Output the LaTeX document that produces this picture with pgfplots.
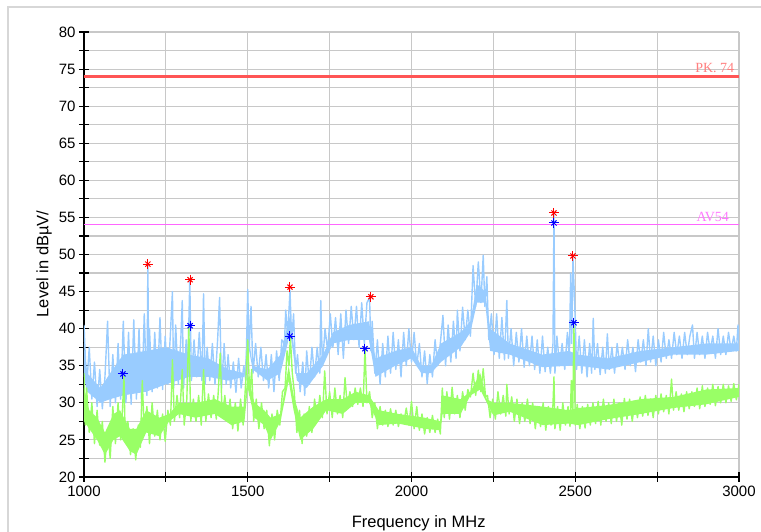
\documentclass[border=0pt]{standalone}
\usepackage{fontspec}
\setmainfont{Liberation Sans}
\newfontfamily\limfont{Liberation Serif}
\usepackage{pgfplots}
\pgfplotsset{compat=1.18}
\definecolor{pkblue}{RGB}{153,204,255}
\definecolor{avgreen}{RGB}{153,255,102}
\definecolor{pkline}{RGB}{255,85,85}
\definecolor{pklabel}{RGB}{255,128,128}
\definecolor{avline}{RGB}{255,102,255}
\definecolor{avlabel}{RGB}{255,120,255}
\definecolor{gridgray}{RGB}{200,200,200}
\definecolor{framegray}{RGB}{215,215,215}

\begin{document}
\begin{tikzpicture}
\begin{axis}[
  at={(0,0)}, anchor=south west,
  width=655pt, height=445pt, scale only axis,
  xmin=1000, xmax=3000, ymin=20, ymax=80,
  axis x line*=bottom, axis y line*=left,
  axis line style={black, line width=1.3pt, -},
  xtick={1000,1500,...,3000}, minor xtick={1250,1750,2250,2750},
  ytick={20,25,...,80}, minor ytick={22.5,27.5,...,77.5},
  grid=both,
  major grid style={gridgray, line width=1.1pt},
  minor grid style={gridgray, line width=1.1pt},
  tick align=center, major tick length=10pt, minor tick length=10pt,
  every tick/.style={black, line width=1.1pt},
  scaled ticks=false,
  /pgf/number format/1000 sep={},
  /pgf/number format/assume math mode=true,
  ticklabel style={font=\fontsize{15}{15}\selectfont},
  xlabel={Frequency in MHz}, ylabel={Level in dBµV/},
  every axis x label/.style={at={(axis description cs:0.511,-0.104)}, anchor=center,
    font=\fontsize{16.5}{18}\selectfont},
  every axis y label/.style={at={(axis description cs:-0.061,0.479)}, rotate=90, anchor=center,
    font=\fontsize{16.5}{18}\selectfont},
]
% peak trace: dense body of the band (upper edge, then lower edge back)
\addplot[fill=pkblue, draw=none] coordinates {
(1000,38)(1010,34)(1050,32)(1080,34)(1120,36.5)(1190,37)(1250,37.5)(1320,36.5)
(1380,36)(1440,34.5)(1490,34)(1500,40)(1515,35)(1560,34.5)(1600,36.5)(1630,42)
(1650,34)(1680,34)(1730,36.5)(1760,39.5)(1810,40.5)(1870,41)(1890,36)(1950,37)
(2000,37.5)(2030,35)(2060,35)(2090,38)(2150,39.5)(2180,41)(2200,46)(2225,45)
(2240,40)(2300,38)(2400,36.5)(2480,37)(2510,36.5)(2600,36)(2700,37)(2800,37.5)
(2900,38)(3000,38)
(3000,37)(2900,36.5)(2800,36.5)(2700,35.5)(2600,34.5)(2510,35)(2480,35)(2400,34.8)
(2300,36.5)(2240,37)(2225,43.5)(2200,43.5)(2180,39.5)(2150,37.5)(2090,35.5)(2060,34)
(2030,34)(2000,36)(1950,35)(1890,33.5)(1870,38.5)(1810,38.5)(1760,38)(1730,35)
(1680,32)(1650,33)(1630,39.5)(1600,34)(1560,33)(1515,34.5)(1500,38)(1490,33.5)
(1440,33)(1380,33.5)(1320,33.5)(1250,32.5)(1190,31.5)(1120,31)(1080,30.5)(1050,30)
(1010,31.5)(1000,33.5)
};
% peak trace: noise
\addplot[pkblue, line width=1.4pt, line join=round] coordinates {
(1000,40.5)(1008,32)(1016,37.5)(1024,30.5)(1032,35.5)(1040,29.5)(1048,34.5)(1056,29.2)
(1064,33.5)(1072,41.0)(1080,29.5)(1088,36.5)(1096,30)(1104,38)(1112,30.5)(1120,41.0)
(1128,30)(1136,39.5)(1144,29.8)(1152,41.2)(1160,30.5)(1168,40)(1176,29.8)(1184,42)
(1192,31)(1195,48.7)(1198,32)(1200,40)(1208,31.5)(1216,39.5)(1224,32)(1232,41.5)
(1240,31.8)(1248,39)(1256,32.5)(1264,39.5)(1270,45)(1274,32)(1280,40.5)(1288,32.5)
(1296,39)(1300,43.8)(1304,32)(1312,38.5)(1316,32.5)(1323,46.6)(1328,33)(1336,38.5)
(1344,33.5)(1352,39.5)(1360,33)(1365,44.7)(1370,32.5)(1376,37.5)(1384,33)(1392,38)
(1400,32.5)(1408,38.5)(1414,44.2)(1420,32)(1428,38)(1434,32.5)(1440,36.5)(1448,32)
(1456,35.5)(1464,31.4)(1472,36)(1480,32)(1488,35)(1494,33)(1500,45.3)(1504,37)
(1510,43)(1516,34)(1524,38)(1532,33.5)(1540,37.5)(1548,33)(1556,36.5)(1564,32)
(1572,36.5)(1580,31.5)(1588,37)(1596,33)(1604,38.5)(1612,38)(1616,42.5)(1622,39)
(1629,45.2)(1634,38.5)(1640,42)(1646,34)(1652,36.5)(1660,31.5)(1668,35.5)(1674,31)
(1680,37)(1688,32.5)(1696,37.5)(1704,33.5)(1712,37.5)(1720,34)(1723,43.8)(1728,35)
(1736,40)(1744,37)(1752,42)(1760,37.5)(1768,41.5)(1776,36.5)(1784,42)(1792,36)
(1800,42.5)(1808,38)(1816,43)(1824,38.5)(1832,43)(1840,37.5)(1848,43.5)(1856,38)
(1864,43.5)(1872,44.2)(1876,37)(1880,41)(1888,34)(1896,38.5)(1904,32.5)(1912,38)
(1920,33.5)(1928,39)(1936,34)(1944,39.5)(1952,34.5)(1960,38.5)(1968,33.5)(1976,39.5)
(1984,35)(1992,40)(2000,35.5)(2008,39.5)(2016,35)(2024,38)(2032,33.5)(2040,37)
(2048,32.6)(2056,36.5)(2064,33.5)(2072,38.5)(2080,35)(2088,38)(2096,41.8)(2104,35)
(2112,40.5)(2120,35.5)(2128,41)(2136,36)(2140,42.5)(2148,37)(2156,42.9)(2164,38.5)
(2172,42.5)(2180,39)(2188,48.5)(2196,43)(2204,49)(2212,43.5)(2219,49.9)(2224,43)
(2230,47)(2236,38.5)(2244,42)(2252,36.5)(2260,42)(2268,36)(2276,41.5)(2284,35.8)
(2291,43.8)(2296,36)(2304,40)(2312,35)(2320,39.5)(2328,35.5)(2336,40)(2344,34.8)
(2352,39)(2360,35)(2368,39)(2376,34.5)(2384,38.5)(2392,34)(2400,39)(2408,34.2)
(2416,37.5)(2424,34)(2432,38)(2435,55.6)(2438,34)(2444,39)(2452,35)(2460,38)
(2468,34.5)(2476,39.5)(2482,36)(2486,47.5)(2489,38)(2493,49.6)(2497,45)(2500,41)
(2504,34.5)(2512,39)(2520,34)(2528,38.5)(2536,33.5)(2544,38)(2550,34)(2555,41.4)
(2560,34.5)(2568,38)(2576,33.8)(2584,37.5)(2592,34)(2598,39.3)(2604,34.5)(2612,37.5)
(2620,34)(2628,38)(2636,35)(2644,37.5)(2652,34.5)(2660,38.5)(2668,35)(2676,37.5)
(2684,34.2)(2692,38.5)(2700,35.5)(2708,38.5)(2716,35)(2723,40)(2730,35.5)(2738,39)
(2746,35)(2754,38.5)(2762,35.5)(2770,39.5)(2778,36)(2786,38.5)(2794,36)(2802,39.5)
(2810,36.5)(2818,39)(2826,36)(2834,39.5)(2842,36.5)(2850,39)(2858,40.5)(2864,36)
(2872,39.5)(2880,36.5)(2888,39)(2896,36)(2904,39.5)(2912,37)(2920,39)(2928,36)
(2936,40)(2944,36.5)(2952,39)(2960,36.5)(2968,39.5)(2976,37)(2984,39)(2992,37)
(2997,40.5)(3000,38)
};
% average trace: dense body
\addplot[fill=avgreen, draw=none] coordinates {
(1000,32)(1016,29)(1040,28)(1064,26)(1090,28.5)(1110,29)(1140,26.5)(1160,26.5)
(1190,29)(1230,28)(1260,28.5)(1290,30)(1340,30)(1400,30.5)(1450,29.5)(1490,29.5)
(1500,34)(1520,30)(1550,29)(1570,28)(1600,28.5)(1625,35)(1640,31)(1660,28)
(1700,29.5)(1740,30.5)(1790,30.5)(1830,31.5)(1870,31)(1900,29)(1960,28.5)(2040,28)
(2088,27.5)(2095,31)(2150,30.5)(2180,31.5)(2210,34)(2230,30.5)(2250,30)(2300,30)
(2400,29.5)(2480,29)(2510,29.3)(2600,29.7)(2700,30.5)(2800,30.8)(2900,31.8)(3000,32)
(3000,30.8)(2900,29.8)(2800,29.3)(2700,28.5)(2600,27.8)(2510,27)(2480,27.2)(2400,27)
(2300,28.8)(2250,28.3)(2230,30)(2210,31.8)(2180,31)(2150,28.5)(2095,28.5)(2088,26.3)
(2040,26.5)(1960,27.2)(1900,27)(1870,30)(1830,30)(1790,28.5)(1740,29)(1700,26.5)
(1660,25)(1640,29)(1625,33)(1600,27.5)(1570,25)(1550,27)(1520,28)(1500,32)
(1490,27.5)(1450,27)(1400,28.5)(1340,28)(1290,28.5)(1260,27.5)(1230,25.5)(1190,26)
(1160,23)(1140,23.5)(1110,25.5)(1090,25)(1064,23)(1040,25)(1016,26.5)(1000,27.5)
};
% average trace: noise
\addplot[avgreen, line width=1.4pt, line join=round] coordinates {
(1000,34)(1004,27)(1008,32)(1016,26)(1024,30)(1032,24.5)(1040,29)(1048,24.3)
(1056,27.5)(1064,22)(1072,26.5)(1080,22.5)(1088,29.5)(1096,24.5)(1104,30)(1112,25)
(1118,29.5)(1122,33.6)(1126,25)(1134,27.5)(1142,23)(1150,26.5)(1158,22.3)(1166,27)
(1172,24)(1178,33)(1184,26)(1192,29.5)(1200,24.5)(1208,30)(1216,25.5)(1224,29)
(1232,25)(1240,28.5)(1248,24.8)(1256,29)(1264,27)(1270,35.8)(1276,27.5)(1284,31)
(1292,28)(1300,34.5)(1306,27)(1314,30.5)(1320,40.3)(1326,27.5)(1334,30.5)(1342,27.5)
(1350,31)(1358,27)(1365,34.5)(1372,27.5)(1380,31.2)(1388,28)(1396,31)(1404,27.8)
(1410,31.5)(1416,36.7)(1422,28)(1430,31)(1438,27.5)(1446,30.5)(1454,26.5)(1462,30)
(1470,26.2)(1478,30.5)(1486,27)(1494,33)(1500,38.5)(1506,31)(1512,34.5)(1518,27.5)
(1526,30.5)(1534,26.5)(1542,30)(1550,26.5)(1558,29)(1566,24.2)(1574,28.5)(1582,25)
(1590,29)(1598,27)(1606,31.5)(1614,32)(1620,37)(1626,35)(1630,38.9)(1636,34)
(1642,31.5)(1650,26)(1658,29)(1666,24.5)(1672,28.5)(1680,25.5)(1688,29.5)(1696,26)
(1704,30.5)(1712,27.5)(1720,31)(1728,28)(1735,34.3)(1742,28.5)(1750,31.5)(1758,28)
(1766,32)(1774,28.5)(1782,31)(1790,28)(1797,33.4)(1804,29.5)(1812,31.5)(1820,29.5)
(1828,32)(1836,29.8)(1844,32)(1852,29.5)(1858,37.3)(1864,30)(1872,31.5)(1880,28)
(1888,30)(1896,26.5)(1904,29.5)(1912,27)(1920,29)(1928,26.8)(1936,29.2)(1944,27)
(1952,29)(1960,26.8)(1968,28.5)(1976,27.2)(1984,29.3)(1992,27)(2000,30.2)(2008,26.5)
(2016,29.5)(2024,26.3)(2032,28.5)(2040,25.8)(2048,28)(2056,26)(2064,28.3)(2072,26)
(2080,27.8)(2088,25.8)(2094,32)(2100,28)(2108,31.5)(2116,27.8)(2124,32.1)(2132,28.5)
(2140,31)(2148,28)(2156,31.5)(2164,29)(2172,31.8)(2180,30.8)(2188,34)(2196,31)
(2204,34.4)(2212,31.5)(2219,34.6)(2226,30.8)(2232,31)(2240,28)(2248,30.5)(2256,27.8)
(2264,31.5)(2272,28.5)(2280,31)(2288,28.2)(2291,32.5)(2298,28.5)(2306,30.8)(2314,27.5)
(2322,30.5)(2330,27.2)(2338,30)(2346,27.5)(2354,30.5)(2362,27.2)(2370,30)(2378,26.5)
(2386,29.5)(2394,26.8)(2402,30)(2410,26.3)(2418,29.5)(2426,27)(2432,29.8)(2435,33.5)
(2438,26.5)(2446,29.5)(2454,26.3)(2462,30)(2470,27)(2478,29.5)(2484,26.8)(2488,33)
(2492,27.5)(2496,40.5)(2500,27)(2506,29.8)(2514,26.5)(2522,29.5)(2530,26.6)(2538,29.8)
(2546,27)(2554,30)(2562,27.2)(2570,30.2)(2578,27)(2586,30.5)(2594,27.5)(2602,30)
(2610,27.2)(2618,30.5)(2626,27.5)(2634,30)(2642,27)(2650,30.6)(2658,27.8)(2666,30.5)
(2674,27.5)(2682,30.2)(2690,28)(2698,30.8)(2706,28.2)(2714,31)(2722,28.3)(2730,30.5)
(2738,28)(2746,31)(2754,28.5)(2762,31.2)(2770,28.8)(2778,31)(2786,28.5)(2794,33.2)
(2800,29)(2808,31.5)(2816,29)(2824,31.2)(2832,28.8)(2840,31.5)(2848,29.2)(2856,31.5)
(2864,29.5)(2872,32)(2880,29.2)(2888,32.3)(2896,29.5)(2904,32)(2912,29.8)(2920,32.5)
(2928,29.6)(2936,32.2)(2944,30)(2952,32.5)(2960,30)(2968,32.3)(2976,30.2)(2984,32.6)
(2992,30.4)(3000,32.5)
};
% limit lines
\addplot[pkline, line width=2.4pt] coordinates {(1000,74) (3000,74)};
\addplot[avline, line width=1.2pt] coordinates {(1000,54) (3000,54)};
\node[anchor=base east, text=pklabel, font=\limfont\fontsize{14}{14}\selectfont] at (axis cs:2996,74.6) {PK. 74};
\node[anchor=base east, text=avlabel, font=\limfont\fontsize{14}{14}\selectfont] at (axis cs:2980,54.4) {AV54};
% final peak readings
\addplot[only marks, red, mark=+, mark size=5pt, line width=1pt] coordinates {
(1195,48.7)(1324,46.6)(1629,45.6)(1876,44.3)(2435,55.6)(2493,49.8)};
\addplot[only marks, red, mark=x, mark size=3.6pt, line width=1pt] coordinates {
(1195,48.7)(1324,46.6)(1629,45.6)(1876,44.3)(2435,55.6)(2493,49.8)};
% final average readings
\addplot[only marks, blue, mark=+, mark size=5pt, line width=1pt] coordinates {
(1119,33.9)(1324,40.4)(1629,39.0)(1858,37.3)(2435,54.25)(2496,40.8)};
\addplot[only marks, blue, mark=x, mark size=3.6pt, line width=1pt] coordinates {
(1119,33.9)(1324,40.4)(1629,39.0)(1858,37.3)(2435,54.25)(2496,40.8)};
\end{axis}
\draw[framegray, line width=1.2pt] (-76pt,-80pt) -- (-76pt,470pt) -- (700pt,470pt);
\pgfresetboundingbox
\path[use as bounding box] (-84pt,-55pt) rectangle (677pt,477pt);
\end{tikzpicture}
\end{document}
